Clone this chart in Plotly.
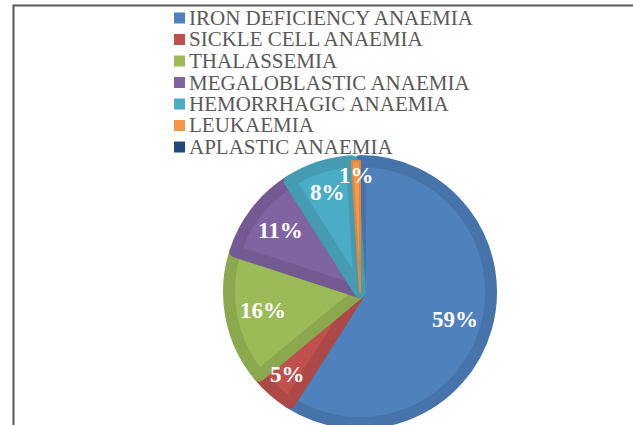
import math
import plotly.graph_objects as go

# ---- data ----
labels = ["IRON DEFICIENCY ANAEMIA", "SICKLE CELL ANAEMIA", "THALASSEMIA",
          "MEGALOBLASTIC ANAEMIA", "HEMORRHAGIC ANAEMIA", "LEUKAEMIA",
          "APLASTIC ANAEMIA"]
values = [59, 5, 16, 11, 8, 1, 0]

# ---- styles ----
fill_colors = ["#4F81BD", "#C0504D", "#9BBB59", "#8064A2", "#4BACC6", "#F79646", "#1F497D"]
edge_colors = ["#4674AA", "#AC4845", "#8BA84F", "#735A92", "#449BB2", "#DE873F", "#1C4270"]
edge_widths = [12, 12, 12, 12, 12, 2, 0]

W, H = 633, 440
cx, cy, r = 360, 292, 131   # pie centre / path radius in px (top-left origin)
edge_w = 12

fig = go.Figure()
fig.add_trace(go.Pie(
    labels=labels,
    values=values,
    sort=False,
    direction="clockwise",
    rotation=0,
    marker=dict(colors=fill_colors, line=dict(color=edge_colors, width=edge_widths)),
    textinfo="none",
    domain=dict(x=[(cx - r) / W, (cx + r) / W], y=[1 - (cy + r) / H, 1 - (cy - r) / H]),
    showlegend=False,
    hoverinfo="label+percent",
))

annotations = []
shapes = []

# ---- percentage labels, placed at each slice's mid-angle (small slices pushed outward) ----
total = sum(values)
r_vis = r + edge_w / 2
cum = 0
for v in values:
    if v > 0:
        frac = 0.86 - 0.14 * min(1.0, v / 12)
        mid = (cum + v / 2) / total * 2 * math.pi   # clockwise from 12 o'clock
        lx = cx + frac * r_vis * math.sin(mid)
        ly = cy - frac * r_vis * math.cos(mid)
        annotations.append(dict(text=f"{round(v / total * 100)}%", xref="paper", yref="paper",
                                x=lx / W, y=1 - ly / H, xanchor="center", yanchor="middle",
                                showarrow=False,
                                font=dict(family="Liberation Serif", size=23, color="white",
                                          weight="bold")))
    cum += v

# ---- manual legend (Word-style compact spacing) ----
leg_top, leg_gap = 18, 21.5
mk_x0, mk_size, txt_x = 174, 11, 187
for i, (lab, col) in enumerate(zip(labels, fill_colors)):
    yc = leg_top + leg_gap * i
    shapes.append(dict(type="rect", xref="paper", yref="paper",
                       x0=mk_x0 / W, x1=(mk_x0 + mk_size) / W,
                       y0=1 - (yc + mk_size / 2) / H, y1=1 - (yc - mk_size / 2) / H,
                       fillcolor=col, line=dict(width=0)))
    annotations.append(dict(text=lab, xref="paper", yref="paper",
                            x=txt_x / W, y=1 - yc / H, xanchor="left", yanchor="middle",
                            showarrow=False,
                            font=dict(family="Liberation Serif", size=21, color="#595959")))

# frame (chart area border, left & top visible)
shapes.append(dict(type="path", xref="paper", yref="paper",
                   path=f"M {13.5/W},0 L {13.5/W},{1-5.5/H} L 1.01,{1-5.5/H}",
                   line=dict(color="#595959", width=2)))

fig.update_layout(
    width=W, height=H,
    margin=dict(l=0, r=0, t=0, b=0),
    paper_bgcolor="white", plot_bgcolor="white",
    shapes=shapes,
    annotations=annotations,
)

fig.write_html("out.html", config={"displayModeBar": False},
               post_script="document.body.style.margin='0';")
